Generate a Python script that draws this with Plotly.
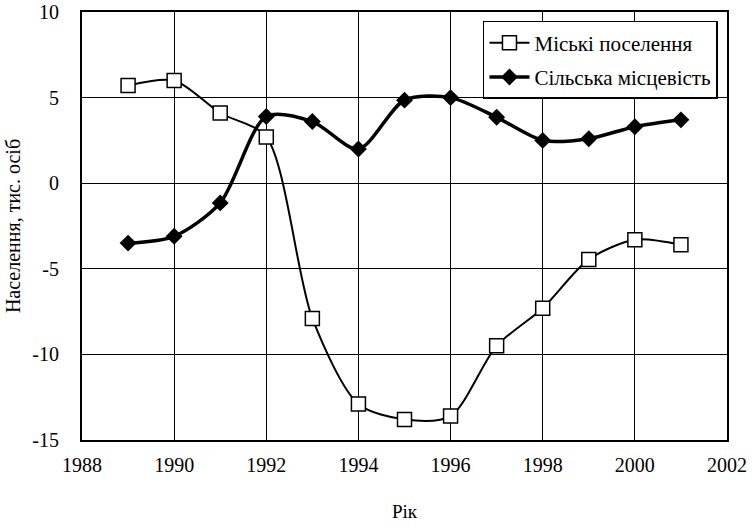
import plotly.graph_objects as go

years = [1989, 1990, 1991, 1992, 1993, 1994, 1995, 1996, 1997, 1998, 1999, 2000, 2001]
urban = [5.7, 6.0, 4.1, 2.7, -7.9, -12.9, -13.8, -13.6, -9.5, -7.3, -4.45, -3.3, -3.6]
rural = [-3.5, -3.1, -1.15, 3.9, 3.6, 2.0, 4.85, 5.0, 3.85, 2.5, 2.6, 3.3, 3.7]
name_urban = "Міські поселення"
name_rural = "Сільська місцевість"
x_ticks = [1988, 1990, 1992, 1994, 1996, 1998, 2000, 2002]
y_ticks = [-15, -10, -5, 0, 5, 10]
y_tick_labels = ["-15", "-10", "-5", "0", "5", "10"]

font = "Liberation Serif"

fig = go.Figure()
fig.add_trace(go.Scatter(
    x=years, y=urban, name=name_urban, mode="lines+markers", legendgroup="u",
    line=dict(color="black", width=2, shape="spline", smoothing=0.8),
    marker=dict(symbol="square", size=14, color="white", line=dict(color="black", width=1.5)),
))
fig.add_trace(go.Scatter(
    x=years, y=rural, name=name_rural, mode="lines+markers", legendgroup="r",
    line=dict(color="black", width=3.5, shape="spline", smoothing=0.8),
    marker=dict(symbol="diamond", size=13, color="black", line=dict(color="black", width=0)),
))

fig.update_layout(
    width=752, height=530,
    margin=dict(l=82, r=25, t=12, b=90, autoexpand=False),
    paper_bgcolor="white", plot_bgcolor="white",
    font=dict(family=font, size=20, color="black"),
    showlegend=True,
    legend=dict(
        x=0.986, y=0.979, xanchor="right", yanchor="top",
        bordercolor="black", borderwidth=1.5, bgcolor="white",
        font=dict(family=font, size=21, color="black"),
        traceorder="grouped", tracegroupgap=4, itemwidth=40,
    ),
    xaxis=dict(
        range=[1988, 2002], tickmode="array", tickvals=x_ticks,
        ticktext=[str(v) for v in x_ticks],
        showgrid=True, gridcolor="black", gridwidth=1,
        showline=True, linecolor="black", linewidth=2, mirror=True,
        zeroline=False, ticks="", ticklabelstandoff=6, automargin=False,
        tickfont=dict(family=font, size=20),
        title=dict(text="Рік", font=dict(family=font, size=19), standoff=30),
    ),
    yaxis=dict(
        range=[-15, 10], tickmode="array", tickvals=y_ticks, ticktext=y_tick_labels,
        showgrid=True, gridcolor="black", gridwidth=1,
        showline=True, linecolor="black", linewidth=2, mirror=True,
        zeroline=False, ticks="", ticklabelstandoff=17, automargin=False,
        tickfont=dict(family=font, size=20),
        title=dict(text="Населення, тис. осіб", font=dict(family=font, size=20), standoff=6),
    ),
)

fig.write_html("out.html", config={"displayModeBar": False},
               post_script="document.body.style.margin='0';")
